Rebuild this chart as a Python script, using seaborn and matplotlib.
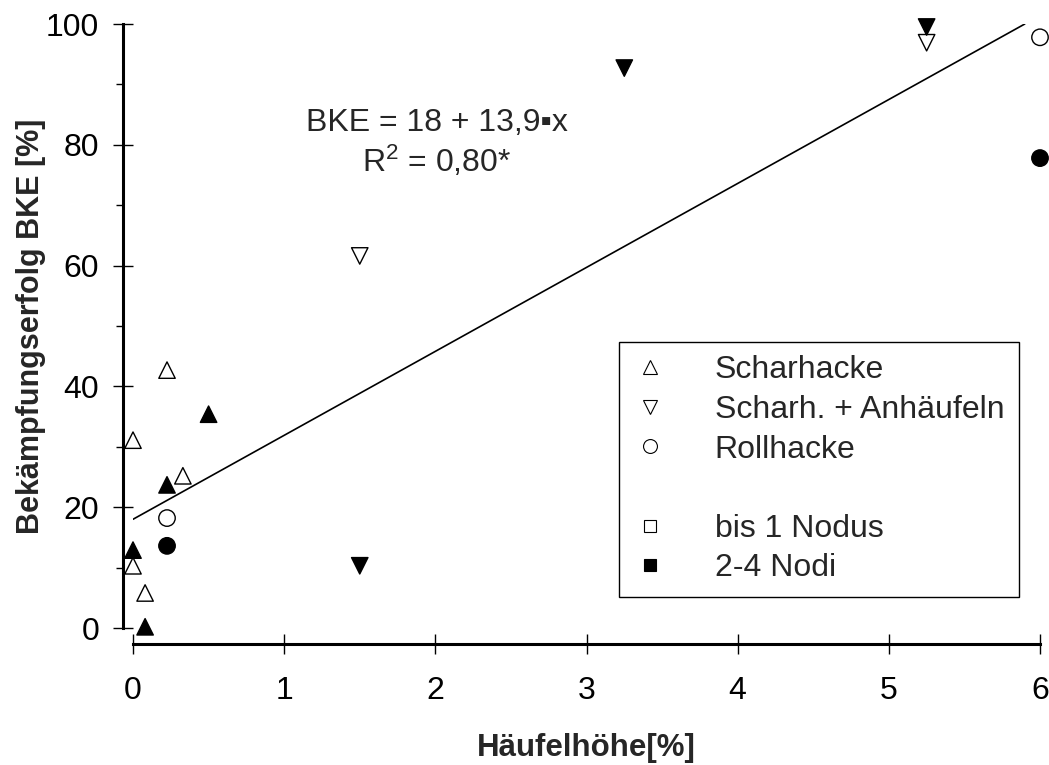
import numpy as np
import pandas as pd
import matplotlib
matplotlib.use("Agg")
import matplotlib.pyplot as plt
from matplotlib.lines import Line2D
import seaborn as sns

# ---- data ----
sch_open_x = [0.225, 0.0, 0.33, 0.0, 0.08]
sch_open_y = [42.7, 31.1, 25.2, 10.3, 5.8]
sch_fill_x = [0.5, 0.225, 0.0, 0.08]
sch_fill_y = [35.4, 23.7, 12.9, 0.2]
anh_open_x = [1.5, 5.25]
anh_open_y = [61.6, 96.9]
anh_fill_x = [5.25, 3.25, 1.5]
anh_fill_y = [99.5, 92.7, 10.3]
roll_open_x = [0.225, 6.0]
roll_open_y = [18.2, 97.8]
roll_fill_x = [0.225, 6.0]
roll_fill_y = [13.6, 77.8]

methods = ["Scharhacke", "Scharh. + Anhäufeln", "Rollhacke"]
stages = ["bis 1 Nodus", "2-4 Nodi"]
intercept = 18.0
slope = 13.9
x_ticks = [0, 1, 2, 3, 4, 5, 6]
y_ticks = [0, 20, 40, 60, 80, 100]

rows = []
for m, st, xs, ys in [
    (methods[0], stages[0], sch_open_x, sch_open_y),
    (methods[0], stages[1], sch_fill_x, sch_fill_y),
    (methods[1], stages[0], anh_open_x, anh_open_y),
    (methods[1], stages[1], anh_fill_x, anh_fill_y),
    (methods[2], stages[0], roll_open_x, roll_open_y),
    (methods[2], stages[1], roll_fill_x, roll_fill_y),
]:
    for xv, yv in zip(xs, ys):
        rows.append({"x": xv, "y": yv, "method": m, "stage": st})
df = pd.DataFrame(rows)

sns.set_theme(style="white")
plt.rcParams["font.family"] = ["Liberation Sans", "DejaVu Sans"]
plt.rcParams["mathtext.fontset"] = "custom"
plt.rcParams["mathtext.rm"] = "Liberation Sans"
plt.rcParams["mathtext.it"] = "Liberation Sans:italic"
plt.rcParams["mathtext.bf"] = "Liberation Sans:bold"

FS = 23

fig = plt.figure(figsize=(10.49, 7.65), dpi=100)
ax = fig.add_axes([133 / 1049, 137 / 765, 907 / 1049, 604 / 765])

marker_map = {methods[0]: "^", methods[1]: "v", methods[2]: "o"}
color_map = {stages[0]: "white", stages[1]: "black"}

sns.scatterplot(data=df, x="x", y="y", style="method", hue="stage",
                markers=marker_map, palette=color_map, edgecolor="black",
                linewidth=1.0, s=140, legend=False, clip_on=False, ax=ax, zorder=3)

x_end = (100 - intercept) / slope
xl = np.array([0.0, x_end])
ax.plot(xl, intercept + slope * xl, color="black", lw=1.2, zorder=2)

ax.set_xlim(0, 6)
ax.set_ylim(0, 100)
ax.set_xticks(x_ticks)
ax.set_yticks(y_ticks)
ax.set_yticks([10, 30, 50, 70, 90], minor=True)

for s in ["top", "right"]:
    ax.spines[s].set_visible(False)
ax.spines["left"].set_position(("outward", 7.2))
ax.spines["bottom"].set_position(("outward", 11.5))
ax.spines["left"].set_bounds(0, 100)
ax.spines["bottom"].set_bounds(0, 6)
for s in ["left", "bottom"]:
    ax.spines[s].set_linewidth(2.2)
    ax.spines[s].set_color("black")

ax.tick_params(axis="both", which="major", direction="inout", length=14.4,
               width=1.0, color="black", labelsize=FS, labelcolor="black",
               left=True, bottom=True)
ax.tick_params(axis="y", which="major", pad=10)
ax.tick_params(axis="x", which="major", pad=16)
ax.tick_params(axis="y", which="minor", direction="out", length=5, width=1.0,
               color="black", left=True)

ax.set_xlabel("Häufelhöhe[%]", fontsize=22.5, fontweight="bold", labelpad=19)
ax.set_ylabel("Bekämpfungserfolg BKE [%]", fontsize=22, fontweight="bold", labelpad=0)

ax.text(2.01, 83.6, "BKE = 18 + 13,9\u25aax", ha="center", va="center", fontsize=FS)
ax.text(2.01, 77.2, r"R$\mathregular{^2}$ = 0,80*", ha="center", va="center", fontsize=FS)

handles = [
    Line2D([], [], ls="none", marker="^", mfc="white", mec="black", ms=10, mew=0.8),
    Line2D([], [], ls="none", marker="v", mfc="white", mec="black", ms=10, mew=0.8),
    Line2D([], [], ls="none", marker="o", mfc="white", mec="black", ms=10, mew=0.8),
    Line2D([], [], ls="none", marker=None),
    Line2D([], [], ls="none", marker="s", mfc="white", mec="black", ms=9, mew=0.8),
    Line2D([], [], ls="none", marker="s", mfc="black", mec="black", ms=9, mew=0.8),
]
labels = [methods[0], methods[1], methods[2], " ", stages[0], stages[1]]
leg = ax.legend(handles, labels, loc="upper left",
                bbox_to_anchor=(0.536, 0.4735, 0.441, 0.0), mode="expand",
                fontsize=FS, frameon=True, fancybox=False, framealpha=1,
                edgecolor="black", borderpad=0.42, labelspacing=0.3,
                handlelength=1.1, handletextpad=1.47, borderaxespad=0)
leg.get_frame().set_linewidth(1.0)

fig.savefig("out.png", dpi=100)
